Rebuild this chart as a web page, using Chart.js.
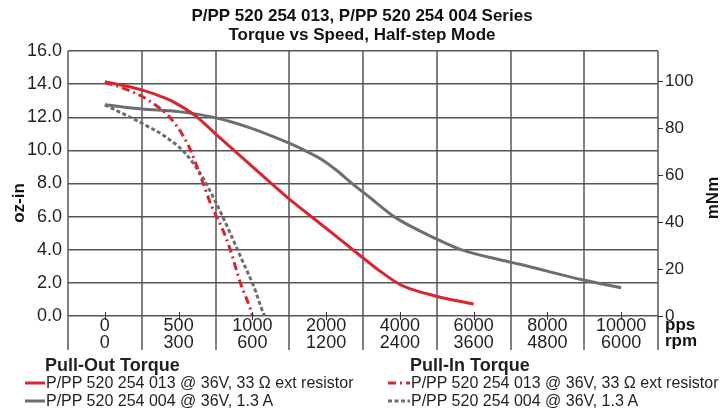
<!DOCTYPE html>
<html>
<head>
<meta charset="utf-8">
<script src="https://cdn.jsdelivr.net/npm/chart.js@4/dist/chart.umd.min.js"></script>
<style>
  body { margin: 0; background: #fff; }
  #wrap { position: relative; width: 724px; height: 411px; }
  #legend { position: absolute; left: 0; top: 356px; width: 724px; font-family: 'Liberation Sans', Arial, sans-serif; color: #231f20; }
  .col { position: absolute; top: 0; }
  .col .head { font-size: 18px; font-weight: bold; line-height: 18px; white-space: nowrap; }
  .row { font-size: 16px; line-height: 18px; height: 18px; display: flex; align-items: center; white-space: nowrap; }
  .row svg { margin-right: 1px; }
</style>
</head>
<body>
<div id="wrap">
  <canvas id="myChart" width="724" height="411"></canvas>
  <div id="legend"></div>
</div>
<script>
const titleLines = ['P/PP 520 254 013, P/PP 520 254 004 Series', 'Torque vs Speed, Half-step Mode'];
const ppsTicks = [0, 500, 1000, 2000, 4000, 6000, 8000, 10000];
const rpmTicks = [0, 300, 600, 1200, 2400, 3600, 4800, 6000];
const mNmTicks = [0, 20, 40, 60, 80, 100];
const xUnits = ['pps', 'rpm'];
const leftTitle = 'oz-in';
const rightTitle = 'mNm';
const OZIN_TO_MNM = 7.0616;

// Pull-Out torque
const out013Pps = [0, 250, 410, 480, 615, 750, 975, 1490, 2000, 2960, 3420, 4030, 4960, 6000];
const out013Oz  = [14.15, 13.65, 13.15, 12.85, 12.08, 11.0, 9.22, 7.1, 5.3, 3.58, 2.78, 1.87, 1.21, 0.72];
const out004Pps = [0, 250, 500, 750, 975, 1490, 1710, 1940, 2280, 2700, 3160, 3840, 4960, 5680, 6940, 7220, 8980, 10000];
const out004Oz  = [12.75, 12.5, 12.34, 11.97, 11.39, 10.45, 10.0, 9.45, 8.8, 8.01, 7.2, 6.0, 4.69, 3.99, 3.28, 3.14, 2.17, 1.7];

// Pull-In torque
const in013Pps = [0, 95, 285, 455, 570, 650, 725, 795, 850, 920, 985, 1000];
const in013Oz  = [14.1, 13.85, 13.08, 11.84, 10.22, 8.41, 6.6, 5.3, 4.0, 1.97, 0.46, 0];
const in004Pps = [0, 250, 410, 545, 660, 750, 840, 930, 1020, 1150, 1170];
const in004Oz  = [12.75, 11.64, 10.83, 9.83, 8.41, 6.9, 5.19, 3.38, 1.77, 0.16, 0];

const RED = '#d7262e';
const GRAY = '#6d6e70';
const FONT = "'Liberation Sans', Arial, sans-serif";

// x axis is not linear in pps: each tick gets the same width
function ppsToPos(p) {
  for (let i = 1; i < ppsTicks.length; i++) {
    if (p <= ppsTicks[i]) return i - 1 + (p - ppsTicks[i - 1]) / (ppsTicks[i] - ppsTicks[i - 1]);
  }
  return ppsTicks.length - 1;
}
function pts(xs, ys) {
  return xs.map((p, i) => ({ x: ppsToPos(p), y: ys[i] }));
}

const datasets = [
  { label: 'P/PP 520 254 013 @ 36V, 33 \u03A9 ext resistor', group: 0, data: pts(out013Pps, out013Oz), borderColor: RED, borderDash: [] },
  { label: 'P/PP 520 254 013 @ 36V, 33 \u03A9 ext resistor', group: 1, data: pts(in013Pps, in013Oz), borderColor: RED, borderDash: [8, 4, 2, 4] },
  { label: 'P/PP 520 254 004 @ 36V, 1.3 A', group: 0, data: pts(out004Pps, out004Oz), borderColor: GRAY, borderDash: [] },
  { label: 'P/PP 520 254 004 @ 36V, 1.3 A', group: 1, data: pts(in004Pps, in004Oz), borderColor: GRAY, borderDash: [4, 2.5] }
];
datasets.forEach(d => {
  d.borderWidth = 3;
  d.pointRadius = 0;
  d.fill = false;
  d.cubicInterpolationMode = 'monotone';
  d.borderCapStyle = 'butt';
});

const extras = {
  id: 'extras',
  afterDraw(chart) {
    const { ctx, chartArea, scales } = chart;
    ctx.save();
    ctx.strokeStyle = '#333';
    ctx.lineWidth = 1;
    ppsTicks.forEach((v, i) => {
      const x = Math.round(scales.x.getPixelForValue(i)) + 0.5;
      ctx.beginPath();
      ctx.moveTo(x, chartArea.bottom - 4);
      ctx.lineTo(x, chartArea.bottom + 4);
      ctx.stroke();
    });
    ctx.fillStyle = '#111';
    ctx.font = 'bold 17px ' + FONT;
    ctx.textAlign = 'left';
    ctx.textBaseline = 'alphabetic';
    ctx.fillText(xUnits[0], chartArea.right + 7, 330);
    ctx.fillText(xUnits[1], chartArea.right + 7, 346);

    ctx.textAlign = 'center';
    ctx.textBaseline = 'middle';
    ctx.translate(19, 203);
    ctx.rotate(-Math.PI / 2);
    ctx.fillText(leftTitle, 0, 0);
    ctx.setTransform(1, 0, 0, 1, 0, 0);
    ctx.translate(713, 198);
    ctx.rotate(-Math.PI / 2);
    ctx.fillText(rightTitle, 0, 0);
    ctx.restore();
  }
};

let ctx = document.getElementById('myChart').getContext('2d');
let myChart = new Chart(ctx, {
  type: 'line',
  data: { datasets: datasets },
  plugins: [extras],
  options: {
    responsive: false,
    animation: false,
    layout: { padding: 0 },
    plugins: {
      legend: { display: false },
      tooltip: { enabled: false },
      title: {
        display: true,
        text: titleLines,
        color: '#111',
        font: { family: FONT, size: 17, weight: 'bold', lineHeight: 1.1 },
        padding: { top: 7, bottom: 6.6 }
      }
    },
    scales: {
      x: {
        type: 'linear',
        min: -0.5,
        max: ppsTicks.length - 0.5,
        afterBuildTicks: s => { s.ticks = ppsTicks.map((v, i) => ({ value: i })); },
        afterFit: s => { s.height = 95; },
        ticks: {
          autoSkip: false,
          maxRotation: 0,
          padding: -32,
          color: '#231f20',
          font: { family: FONT, size: 18, lineHeight: '17px' },
          callback: (v, i) => [String(ppsTicks[i]), String(rpmTicks[i])]
        },
        grid: { offset: true, color: '#808080', lineWidth: 2, tickLength: 34 },
        border: { display: false }
      },
      y: {
        position: 'left',
        min: 0,
        max: 16,
        afterFit: s => { s.width = 68; },
        ticks: {
          stepSize: 2,
          padding: 6,
          color: '#231f20',
          font: { family: FONT, size: 18 },
          callback: v => v.toFixed(1)
        },
        grid: { color: '#555', lineWidth: 1.5, drawTicks: false },
        border: { display: false }
      },
      y2: {
        position: 'right',
        min: 0,
        max: 16 * OZIN_TO_MNM,
        afterBuildTicks: s => { s.ticks = mNmTicks.map(v => ({ value: v })); },
        afterFit: s => { s.width = 66; },
        ticks: {
          padding: 2,
          color: '#231f20',
          font: { family: FONT, size: 17 }
        },
        grid: { drawOnChartArea: false, tickLength: 5, color: '#333', lineWidth: 1 },
        border: { display: false }
      }
    }
  }
});

// legend as html, built from the datasets
const legendTitles = ['Pull-Out Torque', 'Pull-In Torque'];
const colLeft = [25, 388];
const legend = document.getElementById('legend');
legendTitles.forEach((t, g) => {
  const col = document.createElement('div');
  col.className = 'col';
  col.style.left = colLeft[g] + 'px';
  const sw = g === 0 ? 20 : 22;
  let html = '<div class="head" style="padding-left:' + sw + 'px">' + t + '</div>';
  datasets.filter(d => d.group === g).forEach(d => {
    html += '<div class="row"><svg width="' + sw + '" height="6"><line x1="0" y1="3" x2="' + sw +
      '" y2="3" stroke="' + d.borderColor + '" stroke-width="3" stroke-dasharray="' +
      (d.borderDash.length ? d.borderDash.join(' ') : 'none') + '"/></svg><span>' + d.label + '</span></div>';
  });
  col.innerHTML = html;
  legend.appendChild(col);
});
</script>
</body>
</html>
